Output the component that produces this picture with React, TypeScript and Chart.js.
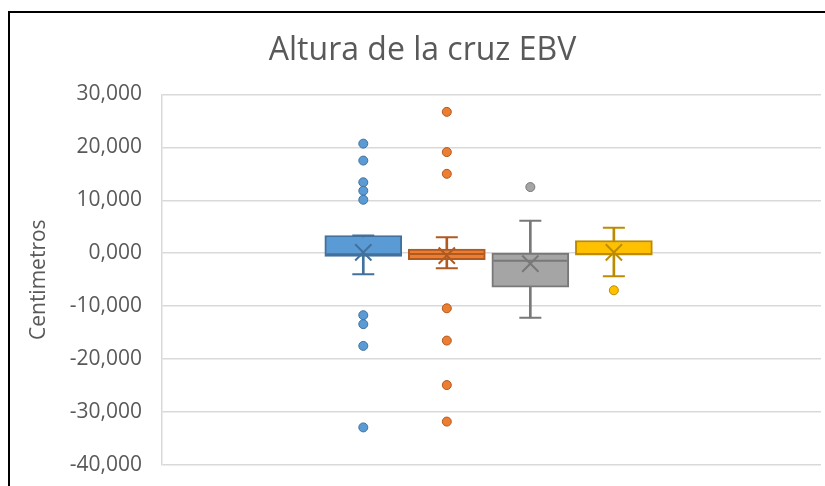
import React, { useEffect, useRef } from 'react';
import { Chart, registerables } from 'chart.js';

Chart.register(...registerables);

// ---- Data ----
const seriesNames = ['Serie 1', 'Serie 2', 'Serie 3', 'Serie 4'];
const seriesPositions = [1, 2, 3, 4];
const minValues = [-3.95, -2.85, -12.2, -4.35];
const q1Values = [-0.6, -1.2, -6.4, -0.35];
const medianValues = [-0.2, -0.15, -1.4, -0.15];
const q3Values = [3.35, 0.8, 0.05, 2.4];
const maxValues = [3.35, 3.0, 6.15, 4.8];
const meanValues = [0.15, -0.45, -1.95, 0.15];
const outliers1 = [20.7, 17.5, 13.4, 11.8, 10.1, -11.7, -13.4, -17.5, -32.9];
const outliers2 = [26.7, 19.1, 15.0, -10.4, -16.5, -24.9, -31.8];
const outliers3 = [12.5];
const outliers4 = [-7.0];
const yMin = -40;
const yMax = 30;
const yStep = 10;

const fillColors = ['#5B9BD5', '#ED7D31', '#A5A5A5', '#FFC000'];
const lineColors = ['#41719C', '#AE5A21', '#787878', '#BC8C00'];

const FONT = 'Open Sans';
const TEXT = '#595959';

export default function App() {
  const ref = useRef<HTMLCanvasElement>(null);

  useEffect(() => {
    document.documentElement.style.overflow = 'hidden';
    const outlierSets = [outliers1, outliers2, outliers3, outliers4];
    const outlierPoints = outlierSets.flatMap((arr, i) =>
      arr.map((v) => ({ x: seriesPositions[i], y: v }))
    );
    const outlierFill = outlierSets.flatMap((arr, i) => arr.map(() => fillColors[i]));
    const outlierLine = outlierSets.flatMap((arr, i) => arr.map(() => lineColors[i]));
    const capPoints = [
      ...seriesPositions.map((x, i) => ({ x, y: minValues[i] })),
      ...seriesPositions.map((x, i) => ({ x, y: maxValues[i] })),
    ];
    const capColors = [...lineColors, ...lineColors];

    const chart = new Chart(ref.current!, {
      type: 'bar',
      data: {
        labels: seriesNames,
        datasets: [
          {
            type: 'bar',
            label: 'whiskers',
            data: seriesPositions.map((x, i) => ({ x, y: [minValues[i], maxValues[i]] })) as any,
            backgroundColor: lineColors,
            borderWidth: 0,
            barThickness: 2,
            grouped: false,
            order: 5,
          },
          {
            type: 'bar',
            label: 'boxes',
            data: seriesPositions.map((x, i) => ({ x, y: [q1Values[i], q3Values[i]] })) as any,
            backgroundColor: fillColors,
            borderColor: lineColors,
            borderWidth: 2,
            borderSkipped: false,
            barThickness: 77,
            grouped: false,
            order: 4,
          },
          {
            type: 'scatter',
            label: 'median',
            data: seriesPositions.map((x, i) => ({ x, y: medianValues[i] })),
            pointStyle: 'line',
            pointRadius: 37,
            pointBorderColor: lineColors,
            pointBorderWidth: 2,
            order: 3,
          },
          {
            type: 'scatter',
            label: 'caps',
            data: capPoints,
            pointStyle: 'line',
            pointRadius: 11,
            pointBorderColor: capColors,
            pointBorderWidth: 2,
            order: 3,
          },
          {
            type: 'scatter',
            label: 'mean',
            data: seriesPositions.map((x, i) => ({ x, y: meanValues[i] })),
            pointStyle: 'crossRot',
            pointRadius: 11.5,
            pointBorderColor: lineColors,
            pointBorderWidth: 2,
            order: 2,
          },
          {
            type: 'scatter',
            label: 'outliers',
            data: outlierPoints,
            pointStyle: 'circle',
            pointRadius: 4.5,
            pointBackgroundColor: outlierFill,
            pointBorderColor: outlierLine,
            pointBorderWidth: 1,
            order: 1,
          },
        ] as any,
      },
      options: {
        responsive: false,
        animation: false,
        events: [],
        layout: { autoPadding: false, padding: { left: 14, right: 4, top: 0, bottom: 21 } },
        plugins: {
          legend: { display: false },
          tooltip: { enabled: false },
          title: {
            display: true,
            text: 'Altura de la cruz EBV',
            color: TEXT,
            font: { family: FONT, size: 32, weight: 'normal' },
            padding: { top: 19, bottom: 24 },
          },
        },
        scales: {
          x: { type: 'linear', display: false, min: -1.41, max: 6.48, offset: false },
          y: {
            type: 'linear',
            min: yMin,
            max: yMax,
            afterFit: (s: any) => {
              s.width = 138;
            },
            ticks: {
              stepSize: yStep,
              padding: 0,
              color: TEXT,
              font: { family: FONT, size: 21 },
              callback: (v: any) => Number(v).toFixed(3).replace('.', ','),
            },
            grid: {
              color: '#d9d9d9',
              lineWidth: 1.5,
              drawTicks: true,
              tickLength: 20,
              tickColor: 'rgba(0,0,0,0)',
            },
            border: { display: true, color: '#d9d9d9', width: 1.5 },
            title: {
              display: true,
              text: 'Centimetros',
              color: TEXT,
              font: { family: FONT, size: 21 },
              padding: { top: 2, bottom: 0 },
            },
          },
        },
      } as any,
    });
    return () => chart.destroy();
  }, []);

  return (
    <div
      style={{
        position: 'absolute',
        left: 8,
        top: 11,
        width: 817,
        height: 475,
        borderLeft: '2px solid #000',
        borderTop: '2px solid #000',
        boxSizing: 'border-box',
        background: '#fff',
      }}
    >
      <canvas ref={ref} width={815} height={473} style={{ display: 'block', width: 815, height: 473 }} />
    </div>
  );
}
